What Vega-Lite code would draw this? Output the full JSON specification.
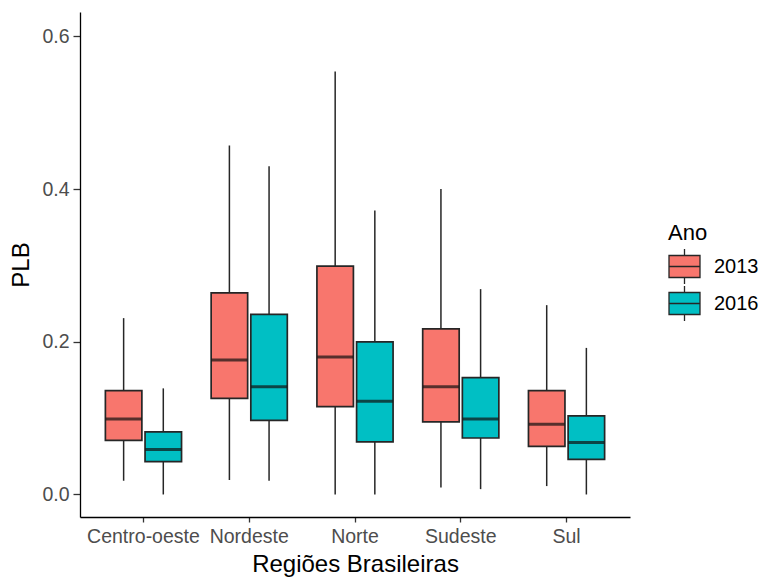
{
  "$schema": "https://vega.github.io/schema/vega-lite/v6.json",
  "width": 550,
  "height": 505,
  "autosize": {"type": "none"},
  "padding": {"left": 80, "top": 12, "right": 131, "bottom": 61},
  "background": "white",
  "config": {
    "view": {"stroke": null},
    "font": "Liberation Sans",
    "axis": {
      "grid": false,
      "domainColor": "#000000",
      "domainWidth": 1.3,
      "tickColor": "#333333",
      "tickWidth": 1.3,
      "labelColor": "#4D4D4D",
      "labelFont": "Liberation Sans",
      "labelFontSize": 19.5,
      "titleFont": "Liberation Sans",
      "titleFontSize": 24,
      "titleFontWeight": "normal",
      "titleColor": "#000000"
    }
  },
  "data": {
    "values": [
      {"Regiao": "Centro-oeste", "Ano": "2013", "min": 0.018, "q1": 0.071, "median": 0.099, "q3": 0.136, "max": 0.231},
      {"Regiao": "Centro-oeste", "Ano": "2016", "min": 0.0, "q1": 0.043, "median": 0.059, "q3": 0.082, "max": 0.139},
      {"Regiao": "Nordeste", "Ano": "2013", "min": 0.019, "q1": 0.126, "median": 0.176, "q3": 0.264, "max": 0.457},
      {"Regiao": "Nordeste", "Ano": "2016", "min": 0.018, "q1": 0.097, "median": 0.141, "q3": 0.236, "max": 0.430},
      {"Regiao": "Norte", "Ano": "2013", "min": 0.0, "q1": 0.115, "median": 0.180, "q3": 0.299, "max": 0.554},
      {"Regiao": "Norte", "Ano": "2016", "min": 0.0, "q1": 0.069, "median": 0.122, "q3": 0.200, "max": 0.372},
      {"Regiao": "Sudeste", "Ano": "2013", "min": 0.009, "q1": 0.095, "median": 0.141, "q3": 0.217, "max": 0.400},
      {"Regiao": "Sudeste", "Ano": "2016", "min": 0.007, "q1": 0.074, "median": 0.099, "q3": 0.153, "max": 0.269},
      {"Regiao": "Sul", "Ano": "2013", "min": 0.011, "q1": 0.063, "median": 0.092, "q3": 0.136, "max": 0.248},
      {"Regiao": "Sul", "Ano": "2016", "min": 0.0, "q1": 0.046, "median": 0.068, "q3": 0.103, "max": 0.192}
    ]
  },
  "encoding": {
    "x": {
      "field": "Regiao",
      "type": "nominal",
      "sort": ["Centro-oeste", "Nordeste", "Norte", "Sudeste", "Sul"],
      "scale": {"paddingInner": 0.25, "paddingOuter": 0.225},
      "axis": {"title": "Regiões Brasileiras", "labelAngle": 0, "tickSize": 5, "labelPadding": 5, "titlePadding": 7}
    },
    "xOffset": {
      "field": "Ano",
      "type": "nominal",
      "scale": {"paddingInner": 0.08, "paddingOuter": 0.04}
    }
  },
  "layer": [
    {
      "mark": {"type": "rule", "color": "#262626", "strokeWidth": 1.5},
      "encoding": {
        "y": {
          "field": "min",
          "type": "quantitative",
          "scale": {"domain": [-0.0295, 0.632], "nice": false, "zero": false},
          "axis": {"title": "PLB", "values": [0, 0.2, 0.4, 0.6], "format": ".1f", "tickSize": 7, "labelPadding": 4, "titlePadding": 8}
        },
        "y2": {"field": "max"}
      }
    },
    {
      "mark": {"type": "bar", "stroke": "#262626", "strokeWidth": 1.7},
      "encoding": {
        "y": {"field": "q1", "type": "quantitative"},
        "y2": {"field": "q3"},
        "fill": {
          "field": "Ano",
          "type": "nominal",
          "scale": {"domain": ["2013", "2016"], "range": ["#F8766D", "#00BFC4"]},
          "legend": {
            "title": "Ano",
            "orient": "none",
            "legendX": 588,
            "legendY": 211,
            "titleFont": "Liberation Sans",
            "titleFontSize": 22,
            "titleFontWeight": "normal",
            "titleColor": "#000000",
            "titlePadding": 5,
            "labelFont": "Liberation Sans",
            "labelFontSize": 20,
            "labelColor": "#000000",
            "labelOffset": 13,
            "rowPadding": -4,
            "symbolType": "M-1,-0.71H1V0.71H-1Z M-1,0H1 M0,-0.71V-1.13 M0,0.71V1.13",
            "symbolSize": 961,
            "symbolStrokeColor": "#262626",
            "symbolStrokeWidth": 1.3,
            "symbolOpacity": 1
          }
        }
      }
    },
    {
      "mark": {"type": "tick", "color": "#111111", "thickness": 3, "size": 36, "orient": "horizontal"},
      "encoding": {
        "y": {"field": "median", "type": "quantitative"}
      }
    }
  ]
}
